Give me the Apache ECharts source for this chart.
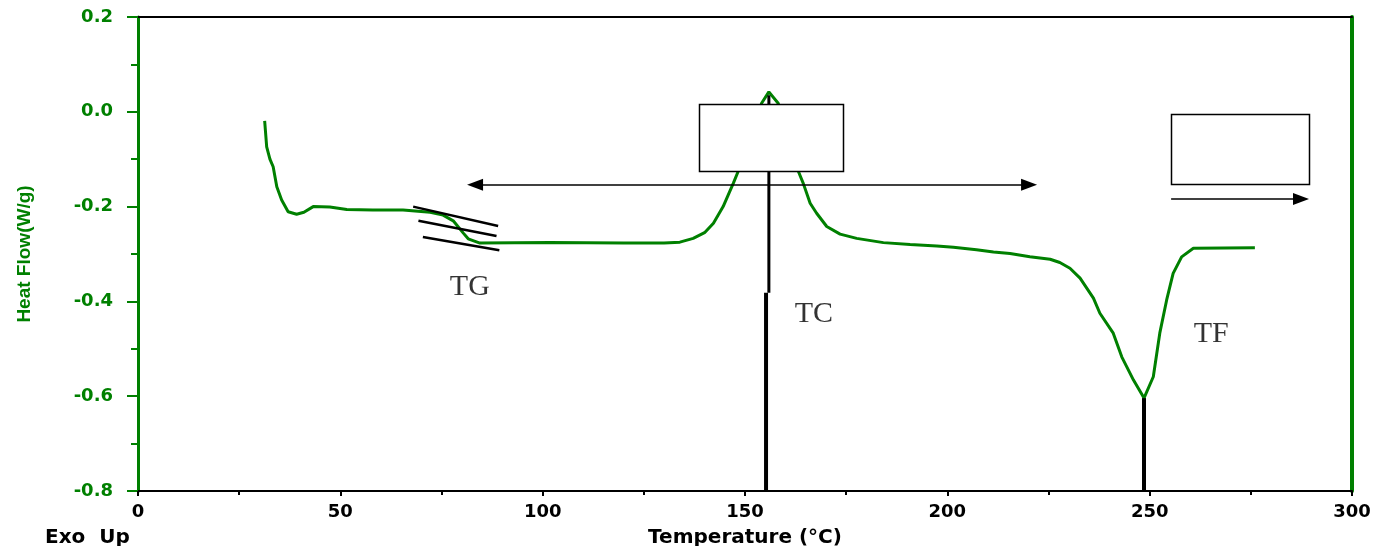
<!DOCTYPE html>
<html>
<head>
<meta charset="utf-8">
<script src="https://cdn.jsdelivr.net/npm/echarts/dist/echarts.min.js"></script>
<style>
  html, body { margin: 0; padding: 0; background: #fff; }
  #main { width: 1382px; height: 546px; }
</style>
</head>
<body>
<div id="main"></div>
<script>
// DSC curve (temperature °C, heat flow W/g)
var temps = [31.3, 31.8, 32.6, 33.4, 34.3, 35.5, 37.1, 39.2, 41.0, 43.3, 47.4, 51.6, 58, 65.5, 72.2, 75.4, 77.9, 80.4, 81.6, 84.5,
  101.8, 120, 130, 133.9, 137.2, 140, 142.2, 144.6, 147.1, 148.3, 154.1, 155.9, 158.2, 163.2, 164.4, 166.1, 167.7, 170.2,
  173.5, 177.6, 184.2, 190.8, 197.4, 201.5, 207.2, 211.4, 215.5, 220.4, 225.4, 227.8, 230.3, 232.8, 236.1, 237.7, 241.0,
  243.1, 246.0, 248.6, 250.9, 252.5, 254.2, 255.8, 257.9, 260.8, 276.0];
var heatFlow = [-0.019, -0.074, -0.100, -0.116, -0.158, -0.186, -0.211, -0.216, -0.212, -0.200, -0.201, -0.206, -0.207, -0.207,
  -0.212, -0.218, -0.230, -0.256, -0.268, -0.277, -0.276, -0.277, -0.277, -0.275, -0.267, -0.255, -0.235, -0.200, -0.151,
  -0.126, 0.018, 0.042, 0.018, -0.126, -0.151, -0.193, -0.214, -0.242, -0.258, -0.267, -0.276, -0.280, -0.283, -0.286,
  -0.291, -0.296, -0.299, -0.306, -0.311, -0.318, -0.330, -0.351, -0.393, -0.425, -0.467, -0.517, -0.566, -0.604, -0.559,
  -0.467, -0.397, -0.341, -0.306, -0.288, -0.287];

// tangent lines at TG: [x0, y0, x1, y1]
var tangents = [
  [68.0, -0.200, 89.0, -0.241],
  [69.3, -0.230, 88.6, -0.262],
  [70.4, -0.264, 89.3, -0.292]
];
// vertical marker lines: [x, yFrom, yTo, width]
var markers = [
  [155.2, -0.8, -0.382, 4],
  [155.9, -0.382, 0.035, 3],
  [248.6, -0.8, -0.604, 4]
];
// empty boxes: [x0, y0, x1, y1]
var boxes = [
  [138.6, 0.0165, 174.2, -0.125],
  [255.3, -0.005, 289.4, -0.152]
];
// arrows: [x0, x1, y, startSymbol]
var arrows = [
  [83.3, 220.2, -0.154, 'triangle'],
  [255.3, 287.4, -0.184, 'none']
];
var tagNames = ['TG', 'TC', 'TF'];
var tagX = [82.0, 167.0, 265.2];
var tagY = [-0.370, -0.427, -0.469];

var green = '#008000';
var tickFont = { fontFamily: 'DejaVu Sans', fontWeight: 'bold', fontSize: 18 };
var nameFont = { fontFamily: 'DejaVu Sans', fontWeight: 'bold', fontSize: 20 };

var myChart = echarts.init(document.getElementById('main'));

var series = [];
series.push({
  type: 'line',
  data: temps.map(function (t, i) { return [t, heatFlow[i]]; }),
  showSymbol: false,
  lineStyle: { color: green, width: 3 },
  z: 2,
  silent: true,
  markLine: {
    silent: true,
    symbol: ['triangle', 'triangle'],
    symbolSize: [12, 16],
    label: { show: false },
    lineStyle: { color: '#000', width: 1.5, type: 'solid' },
    data: arrows.map(function (a) {
      return [{ coord: [a[0], a[2]], symbol: a[3] }, { coord: [a[1], a[2]], symbol: 'triangle' }];
    })
  }
});
tangents.forEach(function (t) {
  series.push({
    type: 'line', data: [[t[0], t[1]], [t[2], t[3]]], showSymbol: false, silent: true,
    lineStyle: { color: '#000', width: 2.5 }, z: 3
  });
});
markers.forEach(function (m) {
  series.push({
    type: 'line', data: [[m[0], m[1]], [m[0], m[2]]], showSymbol: false, silent: true,
    lineStyle: { color: '#000', width: m[3] }, z: 3
  });
});
series.push({
  type: 'custom',
  z: 5,
  silent: true,
  data: boxes,
  renderItem: function (params, api) {
    var p0 = api.coord([api.value(0), api.value(1)]);
    var p1 = api.coord([api.value(2), api.value(3)]);
    return {
      type: 'rect',
      shape: { x: Math.round(p0[0]) + 0.5, y: Math.round(p0[1]) + 0.5, width: Math.round(p1[0] - p0[0]), height: Math.round(p1[1] - p0[1]) },
      style: { fill: '#fff', stroke: '#000', lineWidth: 1.5 }
    };
  }
});
series.push({
  type: 'scatter',
  symbolSize: 0,
  silent: true,
  z: 6,
  data: tagNames.map(function (n, i) { return { name: n, value: [tagX[i], tagY[i]] }; }),
  label: {
    show: true, position: 'inside', formatter: '{b}',
    color: '#000', fontFamily: 'Liberation Serif', fontSize: 30
  }
});

var option = {
  animation: false,
  grid: { left: 138, right: 30, top: 17, bottom: 55, outerBoundsMode: 'none', containLabel: false },
  xAxis: [{
    type: 'value', min: 0, max: 300, interval: 50, position: 'bottom',
    axisLine: { onZero: false, lineStyle: { color: '#000', width: 2 } },
    axisTick: { length: 5, lineStyle: { color: '#000', width: 2 } },
    minorTick: { show: true, splitNumber: 2, length: 4, lineStyle: { color: '#000', width: 2 } },
    splitLine: { show: false },
    axisLabel: Object.assign({ color: '#000', margin: 12 }, tickFont),
    name: 'Temperature (°C)', nameLocation: 'middle', nameGap: 37,
    nameTextStyle: Object.assign({ color: '#000' }, nameFont)
  }, {
    type: 'value', min: 0, max: 300, position: 'top',
    axisLine: { onZero: false, lineStyle: { color: '#000', width: 2 } },
    axisTick: { show: false }, axisLabel: { show: false }, splitLine: { show: false }
  }],
  yAxis: [{
    type: 'value', min: -0.8, max: 0.2, interval: 0.2, position: 'left',
    axisLine: { onZero: false, lineStyle: { color: green, width: 3 } },
    axisTick: { length: 11, lineStyle: { color: green, width: 2 } },
    minorTick: { show: true, splitNumber: 2, length: 7, lineStyle: { color: green, width: 2 } },
    splitLine: { show: false },
    axisLabel: Object.assign({ color: green, margin: 25, formatter: function (v) { return v.toFixed(1); } }, tickFont),
    name: 'Heat Flow(W/g)', nameLocation: 'middle', nameGap: 104,
    nameTextStyle: { color: green, fontFamily: 'Liberation Sans', fontWeight: 'bold', fontSize: 19 }
  }, {
    type: 'value', min: -0.8, max: 0.2, position: 'right',
    axisLine: { onZero: false, lineStyle: { color: green, width: 4 } },
    axisTick: { show: false }, axisLabel: { show: false }, splitLine: { show: false }
  }],
  graphic: [{
    type: 'text', left: 45, top: 528,
    style: { text: 'Exo  Up', fill: '#000', font: 'bold 20px "DejaVu Sans"' }
  }],
  series: series
};

myChart.setOption(option);
</script>
</body>
</html>
